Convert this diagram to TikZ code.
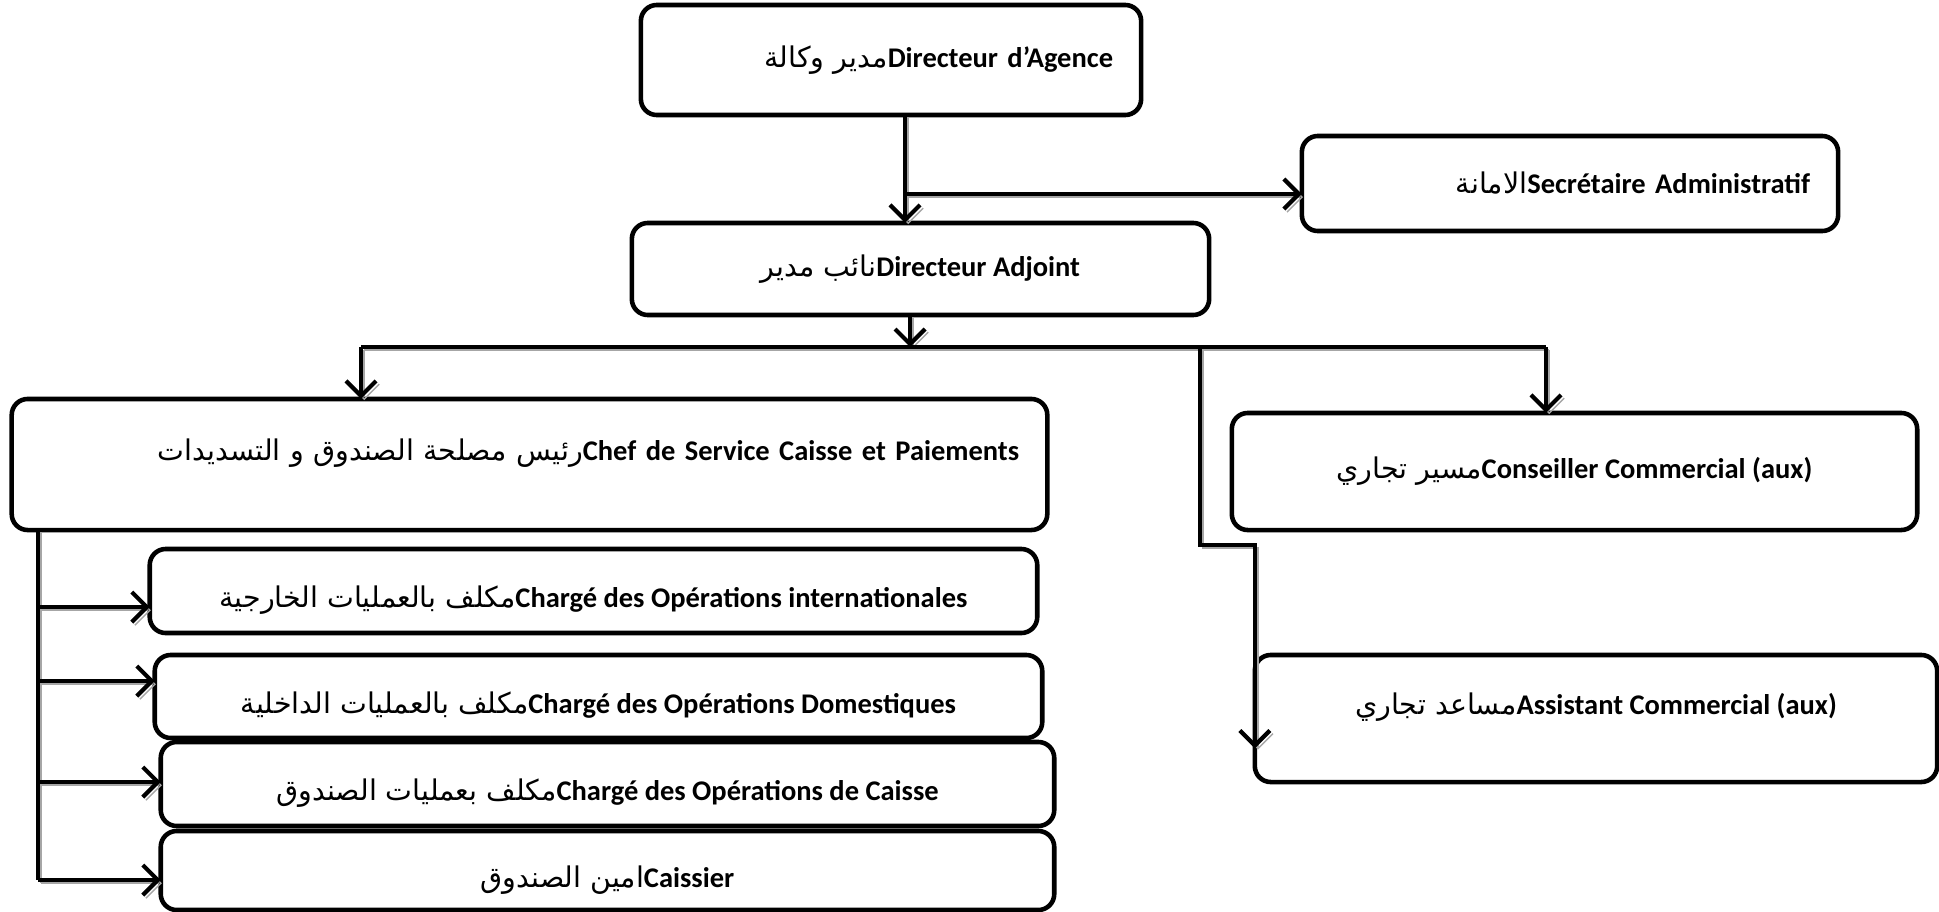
\documentclass[tikz,border=0pt]{standalone}
\usepackage{fontspec}
\setmainfont{Carlito}
\newfontfamily\arabicfont[Script=Arabic]{DejaVu Sans}
\TeXXeTstate=1
\usetikzlibrary{arrows.meta,positioning}
\newcommand{\arlabel}[1]{{\arabicfont\beginR #1\endR}}

\begin{document}
\begin{tikzpicture}[
    x=0.01cm,
    y=-0.01cm,
    font=\fontsize{8.1}{9.5}\selectfont,
    box/.style={
        draw=black,
        line width=1.3pt,
        rounded corners=1.6mm,
        align=center,
        inner sep=0pt,
        outer sep=0pt
    },
    rbox/.style={
        box,
        align=right,
        inner xsep=0.28cm
    },
    lowtext/.style={text height=11.5pt, text depth=2pt},
    hightext/.style={text height=6.5pt, text depth=8.5pt},
    link/.style={
        line width=1.2pt,
        preaction={draw=black!35, transform canvas={shift={(0.9pt,-0.9pt)}}}
    },
    arr/.style={link, -{Straight Barb[length=1.5mm,width=3mm]}}
]
\useasboundingbox (0,0) rectangle (1939,912);

% direction
\node[rbox, text width=4.44cm, minimum height=1.10cm] (da) at (891,60)
{\arlabel{مدير وكالة}\textbf{Directeur d’Agence}};

\node[rbox, text width=4.80cm, minimum height=0.95cm] (sec) at (1570,183.5)
{\arlabel{الامانة}\textbf{Secrétaire Administratif}};

\node[box, minimum width=5.77cm, minimum height=0.92cm] (adj) at (920.5,269)
{\arlabel{نائب مدير}\textbf{Directeur Adjoint}};

% services
\node[rbox, hightext, text width=9.79cm, minimum height=1.31cm] (chef) at (529.5,464.5)
{\arlabel{رئيس مصلحة الصندوق و التسديدات}\textbf{Chef de Service Caisse et Paiements}};

\node[box, minimum width=6.85cm, minimum height=1.17cm] (cons) at (1574.5,471.5)
{\arlabel{مسير تجاري}\textbf{Conseiller Commercial (aux)}};

\node[box, hightext, minimum width=6.82cm, minimum height=1.27cm] (asst) at (1596,718.5)
{\arlabel{مساعد تجاري}\textbf{Assistant Commercial (aux)}};

% caisse: sub-units
\node[box, lowtext, minimum width=8.87cm, minimum height=0.84cm] (intl) at (593.5,591)
{\arlabel{مكلف بالعمليات الخارجية}\textbf{Chargé des Opérations internationales}};

\node[box, lowtext, minimum width=8.87cm, minimum height=0.83cm] (dom) at (598.5,696.5)
{\arlabel{مكلف بالعمليات الداخلية}\textbf{Chargé des Opérations Domestiques}};

\node[box, lowtext, minimum width=8.93cm, minimum height=0.84cm] (cai) at (607.5,784)
{\arlabel{مكلف بعمليات الصندوق}\textbf{Chargé des Opérations de Caisse}};

\node[box, lowtext, minimum width=8.93cm, minimum height=0.79cm] (cais) at (607.5,870.5)
{\arlabel{امين الصندوق}\textbf{Caissier}};

% top links
\coordinate (jsec) at (905,194);
\draw[arr] (da.south -| jsec) -- (adj.north -| jsec);
\draw[arr] (jsec) -- (jsec -| sec.west);

% bar under the deputy
\coordinate (bmid) at (910,347);
\coordinate (bleft) at (361,347);
\coordinate (bright) at (1546,347);
\coordinate (bfork) at (1200,347);
\coordinate (fbend) at (1200,545);
\draw[arr] (adj.south -| bmid) -- (bmid);
\draw[link] (bleft) -- (bright);
\draw[arr] (bleft) -- (bleft |- chef.north);
\draw[arr] (bright) -- (bright |- cons.north);
\draw[arr] (bfork) -- (fbend) -- (fbend -| asst.west) -- ([yshift=-0.3cm]asst.west);

% left trunk
\coordinate (t1) at (38,607);
\coordinate (t2) at (38,681);
\coordinate (t3) at (38,782);
\coordinate (t4) at (38,880);
\draw[link] (chef.south -| t1) -- (t4);
\draw[arr] (t1) -- (t1 -| intl.west);
\draw[arr] (t2) -- (t2 -| dom.west);
\draw[arr] (t3) -- (t3 -| cai.west);
\draw[arr] (t4) -- (t4 -| cais.west);

\end{tikzpicture}
\end{document}
